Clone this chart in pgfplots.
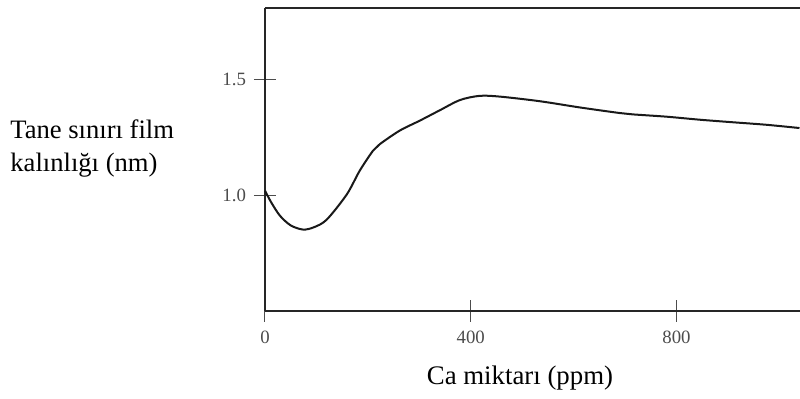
\documentclass[border=0pt]{standalone}
\usepackage{pgfplots}
\pgfplotsset{compat=1.18}
\usepackage{fontspec}
\setmainfont{Liberation Serif}
\begin{document}
\begin{tikzpicture}
\path[use as bounding box] (0,0) rectangle (400pt,199.5pt);
\begin{axis}[
  at={(132.5pt,44pt)}, anchor=south west,
  width=267.5pt, height=151.5pt, scale only axis,
  xmin=0, xmax=1040, ymin=0.5, ymax=1.81,
  axis lines*=left,
  axis line style={line width=1.3pt, black!85},
  xtick={0,400,800}, ytick={1.0,1.5},
  yticklabel style={/pgf/number format/fixed, /pgf/number format/fixed zerofill, /pgf/number format/precision=1},
  /pgf/number format/assume math mode=true,
  tick align=center, major tick length=11pt,
  tick style={line width=0.5pt, black!70},
  ticklabel style={font=\fontsize{9.4}{11}\selectfont, text=black!70},
  xticklabel style={yshift=-1pt},
  yticklabel style={xshift=-0.5pt},
  clip=false,
  xlabel={Ca miktarı (ppm)},
  every axis x label/.style={at={(axis description cs:0.4766,-0.244)}, anchor=base, font=\fontsize{13.4}{16.5}\selectfont},
  ylabel={Tane sınırı film\\kalınlığı (nm)},
  every axis y label/.style={at={(axis description cs:-0.4766,0.535)}, anchor=west, inner sep=0pt, align=left, font=\fontsize{13.3}{16.5}\selectfont},
]
\draw[line width=1.3pt, black!85] (rel axis cs:0,1) -- (rel axis cs:1,1);
\addplot[black!90, line width=1pt, smooth, tension=0.5] coordinates {
(0,1.02) (12,0.97) (29,0.912) (50,0.87) (74,0.852) (95,0.862) (120,0.895)
(159,1.004) (184,1.106) (210,1.193) (223,1.221) (262,1.28) (301,1.323)
(340,1.368) (379,1.412) (417,1.43) (456,1.427) (534,1.407) (612,1.38)
(689,1.356) (715,1.350) (781,1.34) (845,1.327) (909,1.316) (975,1.305) (1039,1.291)
};
\end{axis}
\end{tikzpicture}
\end{document}
